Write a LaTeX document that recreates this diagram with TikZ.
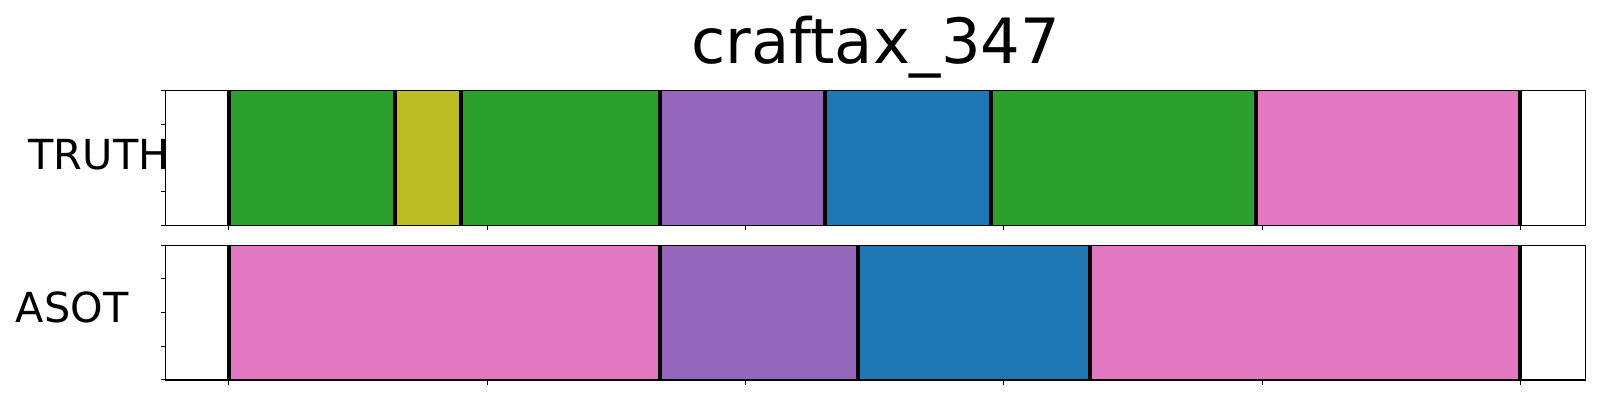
\documentclass[tikz,border=0pt]{standalone}
\usepackage{fontspec}
\setmainfont{DejaVu Sans}
\definecolor{tabgreen}{HTML}{2CA02C}
\definecolor{tabolive}{HTML}{BCBD22}
\definecolor{tabpurple}{HTML}{9467BD}
\definecolor{tabblue}{HTML}{1F77B4}
\definecolor{tabpink}{HTML}{E377C2}
\begin{document}
\begin{tikzpicture}[x=0.5pt,y=-0.5pt,
  rowlabel/.style={inner sep=0pt,anchor=base west,font=\fontsize{20.7}{25}\selectfont},
  titlelabel/.style={inner sep=0pt,anchor=base,font=\fontsize{31.2}{38}\selectfont},
  frame/.style={draw=black,line width=0.55pt},
  bound/.style={draw=black,line width=1.9pt},
  tickmark/.style={draw=black,line width=0.5pt}]
\useasboundingbox (0,0) rectangle (1600,400);
\fill[white] (0,0) rectangle (1600,400);
% labels (drawn before panels so that the panel clips them)
\node[titlelabel] (title) at (875.7,64) {craftax\_347};
\node[rowlabel] (truth) at (28.3,169.3) {TRUTH};
\node[rowlabel] (asot) at (15.5,322.8) {ASOT};
% top panel
\fill[white] (165.7,90.3) rectangle (1585.7,225.3);
\foreach \a/\b/\c in {229/395/tabgreen,395/460.8/tabolive,460.8/660/tabgreen,660/824.7/tabpurple,824.7/990.7/tabblue,990.7/1255.7/tabgreen,1255.7/1520/tabpink}
  \fill[\c] (\a,90.3) rectangle (\b,225.3);
\foreach \x in {229,395,460.8,660,824.7,990.7,1255.7,1520}
  \draw[bound] (\x,90.3) -- (\x,225.3);
% bottom panel
\fill[white] (165.7,245.3) rectangle (1585.7,380);
\foreach \a/\b/\c in {229/660/tabpink,660/857.7/tabpurple,857.7/1090/tabblue,1090/1520/tabpink}
  \fill[\c] (\a,245.3) rectangle (\b,380);
\foreach \x in {229,660,857.7,1090,1520}
  \draw[bound] (\x,245.3) -- (\x,380);
% frames
\draw[frame] (165.7,90.3) rectangle (1585.7,225.3);
\draw[frame] (165.7,245.3) rectangle (1585.7,380);
% y ticks
\foreach \k in {0,1,2,3,4} {
  \draw[tickmark] (165.7,90.3+\k*33.75) -- ++(-5,0);
  \draw[tickmark] (165.7,245.3+\k*33.675) -- ++(-5,0);
}
% x ticks
\foreach \k in {0,...,5} {
  \draw[tickmark] (228.7+\k*258.4,225.3) -- ++(0,5);
  \draw[tickmark] (228.7+\k*258.4,380) -- ++(0,5);
}
\end{tikzpicture}
\end{document}
